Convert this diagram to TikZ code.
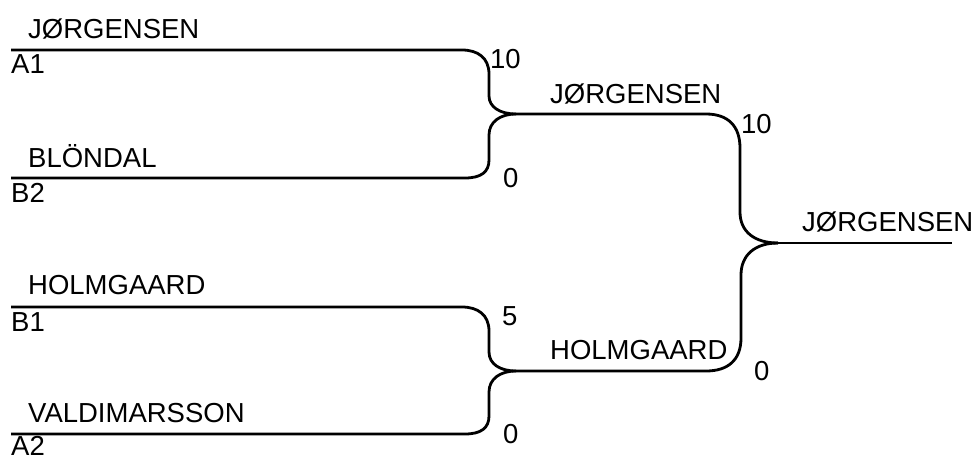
\documentclass[tikz,border=0pt]{standalone}
\usepackage{fontspec}
\setmainfont{Liberation Sans}
\begin{document}
\begin{tikzpicture}[x=1pt,y=-1pt,
  link/.style={line width=2.8pt,line join=round},
  lbl/.style={anchor=base west,inner sep=0pt,font=\fontsize{27.5}{27.5}\selectfont}]
\useasboundingbox (0,0) rectangle (980,459);
% anchor points
\coordinate (a1) at (11,50);
\coordinate (b2) at (11,178);
\coordinate (b1) at (11,307);
\coordinate (a2) at (11,434);
\coordinate (j1) at (516,114);
\coordinate (j2) at (516,371);
\coordinate (j3) at (778,243);
\coordinate (fin) at (952,243);
% round 1
\draw[link] (a1) -- (462,50) .. controls (478,50) and (489,58) .. (489,74) -- (489,96) .. controls (489,107) and (500,114) .. (j1);
\draw[link] (b2) -- (465,178) .. controls (481,178) and (489,172) .. (489,160) -- (489,135) .. controls (489,122) and (500,114) .. (j1);
\draw[link] (b1) -- (462,307) .. controls (478,307) and (489,315) .. (489,331) -- (489,352) .. controls (489,364) and (500,371) .. (j2);
\draw[link] (a2) -- (465,434) .. controls (481,434) and (489,428) .. (489,416) -- (489,392) .. controls (489,379) and (500,371) .. (j2);
% round 2
\draw[link] (j1) -- (706,114) .. controls (728,114) and (740,126) .. (740,148) -- (740,212) .. controls (740,232) and (755,243) .. (j3);
\draw[link] (j2) -- (706,371) .. controls (728,371) and (741,360) .. (741,338) -- (741,275) .. controls (741,255) and (755,243) .. (j3);
\draw[link] (j3) -- (fin);
% labels
\node[lbl] (n1) at (28,38) {JØRGENSEN};
\node[lbl] (s1) at (11,73) {A1};
\node[lbl] (p1) at (490,68) {10};
\node[lbl] (n2) at (28,167) {BLÖNDAL};
\node[lbl] (s2) at (11,202) {B2};
\node[lbl] (p2) at (503,187) {0};
\node[lbl] (n3) at (28,294) {HOLMGAARD};
\node[lbl] (s3) at (11,331) {B1};
\node[lbl] (p3) at (502,325) {5};
\node[lbl] (n4) at (28,422) {VALDIMARSSON};
\node[lbl] (s4) at (11,455) {A2};
\node[lbl] (p4) at (503,443) {0};
\node[lbl] (m1) at (550,103) {JØRGENSEN};
\node[lbl] (q1) at (741,133) {10};
\node[lbl] (m2) at (550,359) {HOLMGAARD};
\node[lbl] (q2) at (754,380) {0};
\node[lbl] (w) at (802,231) {JØRGENSEN};
\end{tikzpicture}
\end{document}
